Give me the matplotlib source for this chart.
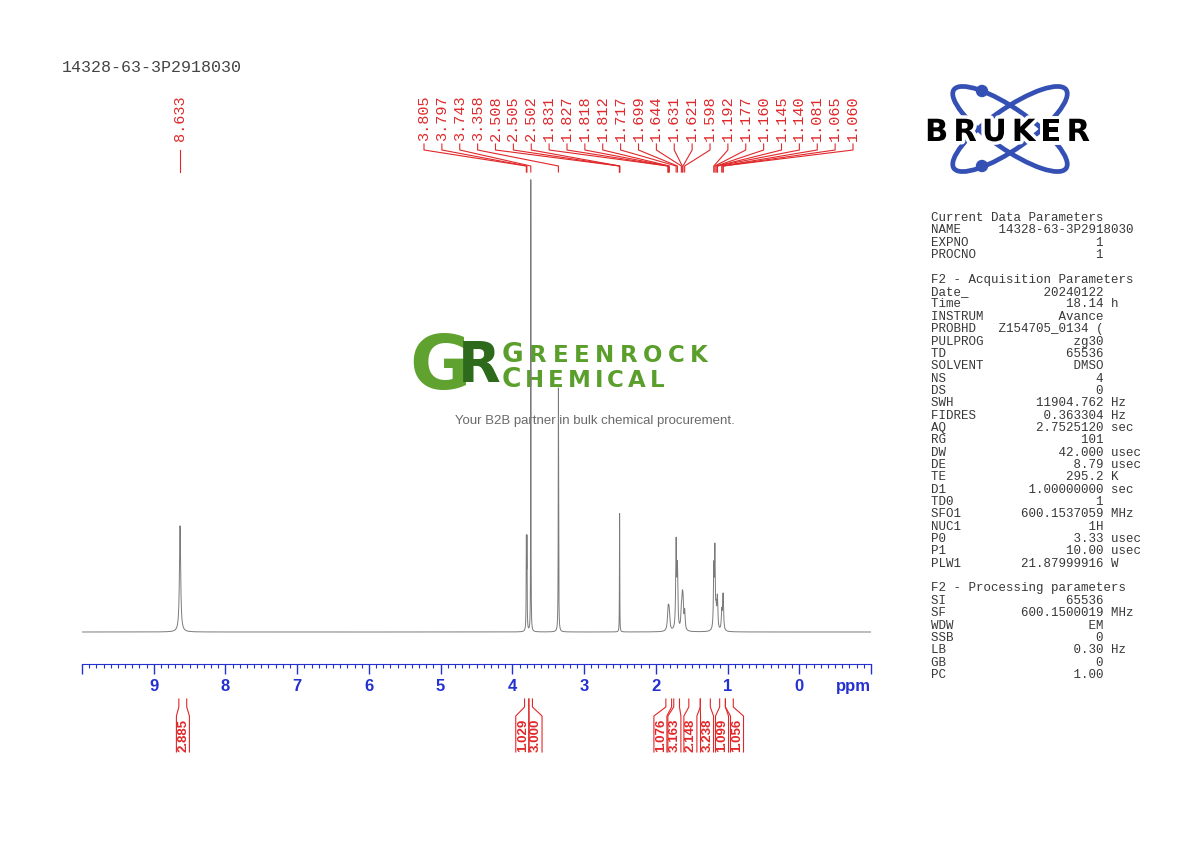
import numpy as np
import matplotlib.pyplot as plt
from matplotlib.patches import Ellipse, Circle
from matplotlib.ticker import MultipleLocator
import matplotlib.patheffects as pe

SAMPLE = '14328-63-3P2918030'

# peak list: shift (ppm), height (rel. to tallest), half width (ppm)
peak_ppm = [8.633, 3.805, 3.797, 3.743, 3.358, 2.508, 2.505, 2.502,
            1.831, 1.827, 1.818, 1.812, 1.717, 1.699, 1.644, 1.631,
            1.621, 1.598, 1.192, 1.177, 1.160, 1.145, 1.140, 1.081,
            1.065, 1.060]
peak_height = [0.235, 0.19, 0.19, 1.0, 0.54, 0.02, 0.25, 0.02,
               0.022, 0.022, 0.022, 0.022, 0.19, 0.13, 0.04, 0.055,
               0.055, 0.04, 0.13, 0.17, 0.035, 0.04, 0.04, 0.04,
               0.045, 0.045]
peak_hw = [0.010, 0.003, 0.003, 0.002, 0.003, 0.002, 0.002, 0.002,
           0.010, 0.010, 0.010, 0.010, 0.007, 0.007, 0.008, 0.008,
           0.008, 0.008, 0.006, 0.006, 0.007, 0.007, 0.007, 0.007,
           0.007, 0.007]

# labelled peaks (top of the spectrum)
lone_label = ['8.633']
group_labels = ['3.805', '3.797', '3.743', '3.358', '2.508', '2.505', '2.502',
                '1.831', '1.827', '1.818', '1.812', '1.717', '1.699', '1.644',
                '1.631', '1.621', '1.598', '1.192', '1.177', '1.160', '1.145',
                '1.140', '1.081', '1.065', '1.060']

# integrals: value, region start/end (ppm), label position (ppm)
int_values = ['2.885', '1.029', '3.000', '1.076', '3.163', '2.148', '3.238', '1.099', '1.056']
int_start = [8.65, 3.83, 3.77, 1.86, 1.75, 1.54, 1.38, 1.11, 1.03]
int_end = [8.54, 3.77, 3.72, 1.78, 1.67, 1.38, 1.24, 1.03, 0.92]
int_label_ppm = [8.593, 3.862, 3.677, 1.936, 1.741, 1.518, 1.286, 1.077, 0.868]

# parameter block
cur_names = ['NAME', 'EXPNO', 'PROCNO']
cur_values = [SAMPLE, '1', '1']
acq_names = ['Date_', 'Time', 'INSTRUM', 'PROBHD', 'PULPROG', 'TD', 'SOLVENT', 'NS', 'DS',
             'SWH', 'FIDRES', 'AQ', 'RG', 'DW', 'DE', 'TE', 'D1', 'TD0', 'SFO1', 'NUC1',
             'P0', 'P1', 'PLW1']
acq_values = ['20240122', '18.14', 'Avance', 'Z154705_0134 (', 'zg30', '65536', 'DMSO', '4', '0',
              '11904.762', '0.363304', '2.7525120', '101', '42.000', '8.79', '295.2',
              '1.00000000', '1', '600.1537059', '1H', '3.33', '10.00', '21.87999916']
acq_units = ['', 'h', '', '', '', '', '', '', '', 'Hz', 'Hz', 'sec', '', 'usec', 'usec', 'K',
             'sec', '', 'MHz', '', 'usec', 'usec', 'W']
proc_names = ['SI', 'SF', 'WDW', 'SSB', 'LB', 'GB', 'PC']
proc_values = ['65536', '600.1500019', 'EM', '0', '0.30', '0', '1.00']
proc_units = ['', 'MHz', '', '', 'Hz', '', '']

RED = '#e0282a'
BLUE = '#2430d0'
MONO = 'Liberation Mono'

fig = plt.figure(figsize=(11.9, 8.42), dpi=100)
W, H = 1190, 842

# spectrum axes: 10 .. -1 ppm spans x 82..871 px, axis line at y=664
ax = fig.add_axes([82 / W, 1 - 664 / H, 789 / W, (664 - 170) / H])
ax.set_xlim(10, -1)
ax.set_ylim(-32 / 452, 462 / 452)

x = np.linspace(10, -1, 40000)
y = np.zeros_like(x)
for p, h, w in zip(peak_ppm, peak_height, peak_hw):
    y += h * w**2 / ((x - p)**2 + w**2)
ax.plot(x, y, color='#7a7a7a', lw=0.7)

for s in ['top', 'left', 'right']:
    ax.spines[s].set_visible(False)
ax.spines['bottom'].set_color(BLUE)
ax.set_yticks([])
major = np.arange(-1, 11)
ax.set_xticks(major)
ax.set_xticklabels(['' if v in (10, -1) else str(v) for v in major],
                   fontweight='bold', family='Liberation Sans')
ax.xaxis.set_minor_locator(MultipleLocator(0.1))
ax.tick_params(axis='x', which='major', length=7, width=1, color=BLUE,
               labelcolor=BLUE, labelsize=12, pad=4)
ax.tick_params(axis='x', which='minor', length=3, width=0.8, color=BLUE)
ax.patch.set_visible(False)
ax.set_zorder(2)

# overlays in image pixel coords (watermark below, annotations above)
ov = fig.add_axes([0, 0, 1, 1])
ov.set_xlim(0, W)
ov.set_ylim(H, 0)
ov.axis('off')
ov.set_zorder(1)
top = fig.add_axes([0, 0, 1, 1])
top.set_xlim(0, W)
top.set_ylim(H, 0)
top.axis('off')
top.set_zorder(3)

renderer = fig.canvas.get_renderer()


def to_px(ppm):
    pts = np.column_stack([np.asarray(ppm, float), np.zeros(len(ppm))])
    return ax.transData.transform(pts)[:, 0]


def tracked(axh, x0, y0, parts, width, **kw):
    # spread letters so the word spans the given width
    arts = []
    for s, fs in parts:
        for ch in s:
            arts.append(axh.text(0, y0, ch, fontsize=fs, va='baseline', ha='left', **kw))
    widths = [t.get_window_extent(renderer).width for t in arts]
    gap = (width - sum(widths)) / (len(arts) - 1)
    xx = x0
    for t, w in zip(arts, widths):
        t.set_x(xx)
        xx += w + gap


# title
top.text(62, 68, SAMPLE, family=MONO, fontsize=12, color='#444444', va='center', ha='left')

# peak labels
lone_px = to_px([float(v) for v in lone_label])
for lx, lab in zip(lone_px, lone_label):
    top.text(lx, 141, lab, rotation=90, family=MONO, fontsize=11, color=RED,
             ha='center', va='bottom')
    top.plot([lx, lx], [150, 172], color=RED, lw=0.8)

grp_px = to_px([float(v) for v in group_labels])
lab_px = np.linspace(424, 853, len(group_labels))
for lx, px, lab in zip(lab_px, grp_px, group_labels):
    top.text(lx, 141, lab, rotation=90, family=MONO, fontsize=11, color=RED,
             ha='center', va='bottom')
    top.plot([lx, lx, px, px], [144, 150, 166, 172], color=RED, lw=0.8)

# integrals
s_px = to_px(int_start)
e_px = to_px(int_end)
l_px = to_px(int_label_ppm)
for val, x1, x2, xl in zip(int_values, s_px, e_px, l_px):
    top.plot([x1, x1, xl - 6.5, xl - 6.5], [699, 707, 716, 752], color=RED, lw=0.8)
    top.plot([x2, x2, xl + 6.5, xl + 6.5], [699, 707, 716, 752], color=RED, lw=0.8)
    top.text(xl + 0.5, 752, val, rotation=90, family='Liberation Sans', fontweight='bold',
             fontsize=9.5, color=RED, ha='center', va='bottom')

# ppm unit label
top.text(853, 686, 'ppm', family='Liberation Sans', fontweight='bold', fontsize=12,
         color=BLUE, ha='center', va='center')

# watermark
ov.text(440, 369, 'G', family='DejaVu Sans', fontweight='bold', fontsize=54,
        color='#5fa22f', ha='center', va='center')
ov.text(479, 366, 'R', family='DejaVu Sans', fontweight='bold', fontsize=40,
        color='#2e6a1c', ha='center', va='center')
tracked(ov, 502, 362, [('G', 19), ('REENROCK', 16.5)], 206,
        family='DejaVu Sans', fontweight='bold', color='#5a9e2c')
tracked(ov, 502, 387, [('C', 19), ('HEMICAL', 16.5)], 162,
        family='DejaVu Sans', fontweight='bold', color='#5a9e2c')
ov.text(595, 421, 'Your B2B partner in bulk chemical procurement.', family='Liberation Sans',
        fontsize=9.5, color='#6a6a6a', ha='center', va='center')

# Bruker logo
for ang in (35, -35):
    top.add_patch(Ellipse((1010, 129), 137, 40, angle=ang, fill=False,
                          edgecolor='#3550b4', lw=3.4))
for cy in (91, 166):
    top.add_patch(Circle((982, cy), 5.5, color='#3550b4'))
tracked(top, 925, 141, [('BRUKER', 22)], 165, family='DejaVu Sans', fontweight='heavy',
        color='black', path_effects=[pe.withStroke(linewidth=5, foreground='white')])

# parameter block
lines = ['Current Data Parameters']
for n, v in zip(cur_names, cur_values):
    lines.append(f'{n:<9}{v:>14}')
lines += ['', 'F2 - Acquisition Parameters']
for n, v, u in zip(acq_names, acq_values, acq_units):
    lines.append(f'{n:<9}{v:>14} {u}'.rstrip())
lines += ['', 'F2 - Processing parameters']
for n, v, u in zip(proc_names, proc_values, proc_units):
    lines.append(f'{n:<9}{v:>14} {u}'.rstrip())
for i, ln in enumerate(lines):
    top.text(931, 218 + i * 12.35, ln, family=MONO, fontsize=9, color='#383838',
             ha='left', va='center')

fig.savefig('out.png', dpi=100, facecolor='white')
